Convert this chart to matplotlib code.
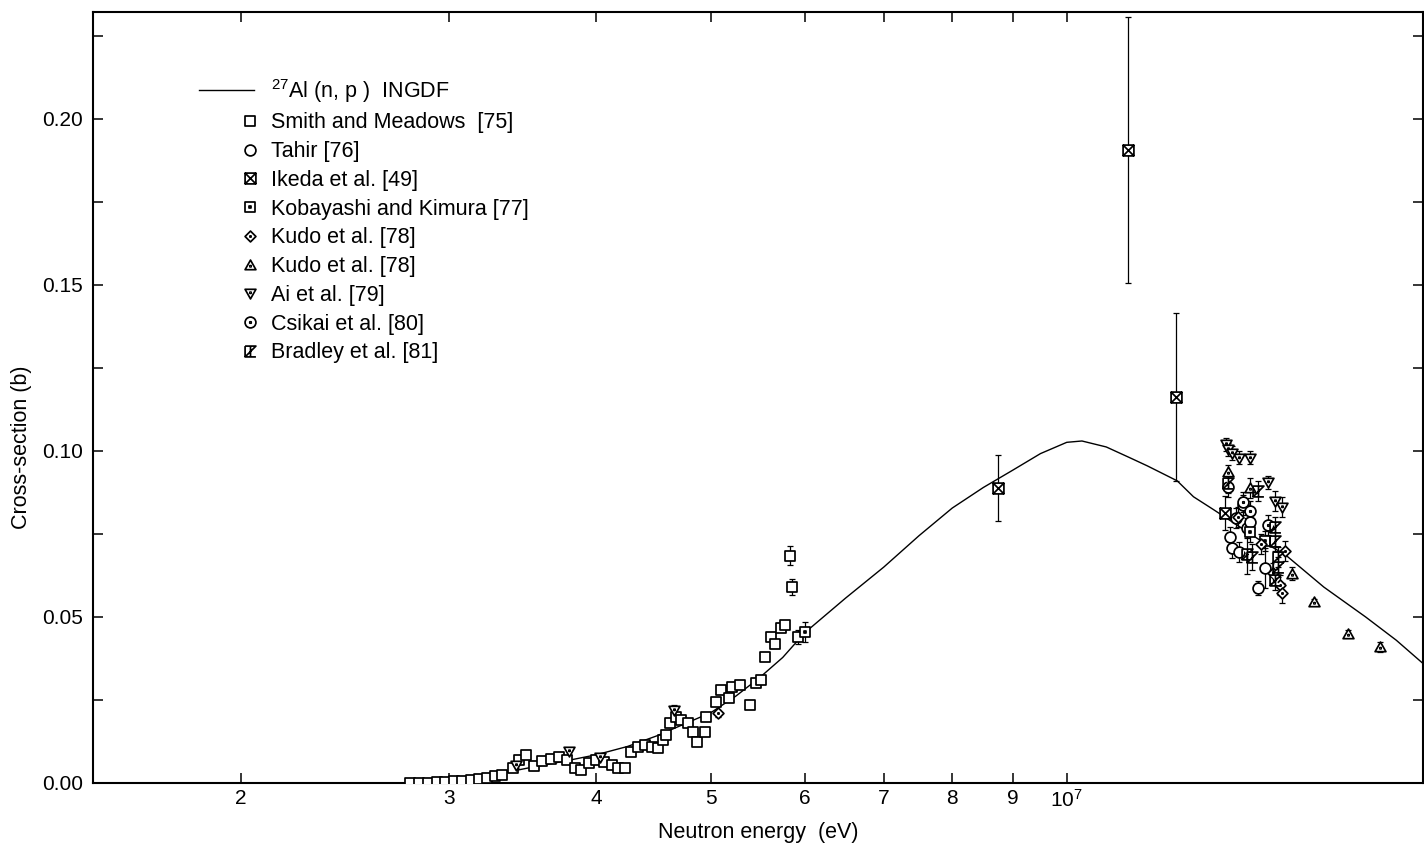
import numpy as np
import matplotlib
matplotlib.use("Agg")
import matplotlib.pyplot as plt
from matplotlib.path import Path
from matplotlib.lines import Line2D
from matplotlib.legend_handler import HandlerLine2D
from matplotlib.ticker import FixedLocator, FixedFormatter, MultipleLocator, NullLocator

plt.rcParams['font.family'] = ['Liberation Sans', 'DejaVu Sans']
plt.rcParams['mathtext.fontset'] = 'custom'
plt.rcParams['mathtext.rm'] = 'Liberation Sans'
plt.rcParams['mathtext.it'] = 'Liberation Sans:italic'

# 27Al(n,p) evaluated curve, energies in MeV, cross-section in b
ingdf_e = [2.75, 3.00, 3.25, 3.50, 3.75, 4.00, 4.25, 4.50, 4.75, 5.00, 5.25, 5.50,
           5.75, 6.00, 6.50, 7.00, 7.50, 8.00, 8.50, 9.00, 9.50, 10.0, 10.3, 10.8,
           11.3, 11.7, 12.4, 12.8, 13.3, 14.56, 15.3, 16.5, 17.9, 19.0, 20.0]
ingdf_xs = [0.0000, 0.0006, 0.0022, 0.0045, 0.0065, 0.0085, 0.0110, 0.0142, 0.0178,
            0.0212, 0.0262, 0.0318, 0.0378, 0.0452, 0.0557, 0.0650, 0.0745, 0.0828,
            0.0890, 0.0942, 0.0992, 0.1026, 0.1030, 0.1012, 0.0980, 0.0955, 0.0910,
            0.0862, 0.0824, 0.0732, 0.0688, 0.0590, 0.0500, 0.0430, 0.0361]

smith_e = [2.78, 2.83, 2.88, 2.93, 2.98, 3.03, 3.08, 3.13, 3.18, 3.23, 3.28, 3.33,
           3.40, 3.44, 3.49, 3.54, 3.60, 3.66, 3.72, 3.78, 3.84, 3.88, 3.94, 4.00,
           4.06, 4.12, 4.17, 4.23, 4.28, 4.34, 4.40, 4.46, 4.51, 4.55, 4.58, 4.62,
           4.67, 4.72, 4.78, 4.83, 4.87, 4.94, 4.95, 5.05, 5.10, 5.18, 5.21, 5.29,
           5.39, 5.46, 5.51, 5.55, 5.62, 5.66, 5.73, 5.77, 5.83, 5.85, 5.92]
smith_xs = [0.0000, 0.0001, 0.0001, 0.0002, 0.0003, 0.0005, 0.0007, 0.0010, 0.0012,
            0.0016, 0.0020, 0.0025, 0.0045, 0.0068, 0.0085, 0.0050, 0.0065, 0.0072,
            0.0078, 0.0070, 0.0045, 0.0040, 0.0060, 0.0068, 0.0062, 0.0055, 0.0045,
            0.0045, 0.0093, 0.0108, 0.0114, 0.0108, 0.0105, 0.0129, 0.0145, 0.0180,
            0.0199, 0.0190, 0.0180, 0.0154, 0.0123, 0.0154, 0.0200, 0.0244, 0.0280,
            0.0256, 0.0290, 0.0295, 0.0235, 0.0300, 0.0310, 0.0380, 0.0440, 0.0420,
            0.0467, 0.0476, 0.0685, 0.0590, 0.0440]
smith_err = [0.0005] * 12 + [0.001] * 44 + [0.003, 0.0025, 0.002]

tahir_e = [13.74, 13.80, 13.90, 14.00, 14.10, 14.20, 14.30, 14.50, 14.70]
tahir_xs = [0.0740, 0.0708, 0.0798, 0.0695, 0.0837, 0.0768, 0.0786, 0.0587, 0.0648]
tahir_err = [0.003, 0.003, 0.003, 0.003, 0.003, 0.003, 0.003, 0.002, 0.006]

ikeda_e = [8.74, 11.26, 12.36, 13.60]
ikeda_xs = [0.0889, 0.1907, 0.1163, 0.0813]
ikeda_err = [0.0099, 0.0400, 0.0252, 0.0050]

kobayashi_e = [6.00, 14.30, 14.70]
kobayashi_xs = [0.0455, 0.0756, 0.0730]
kobayashi_err = [0.003, 0.003, 0.003]

kudo_d_e = [5.07, 13.95, 14.60, 14.95, 15.15, 15.20, 15.30]
kudo_d_xs = [0.0210, 0.0800, 0.0720, 0.0633, 0.0596, 0.0572, 0.0700]
kudo_d_err = [0.001, 0.003, 0.003, 0.003, 0.003, 0.003, 0.003]

kudo_t_e = [13.70, 14.30, 15.50, 16.20, 17.30, 18.40]
kudo_t_xs = [0.0937, 0.0888, 0.0630, 0.0545, 0.0450, 0.0410]
kudo_t_err = [0.002, 0.003, 0.002, 0.001, 0.001, 0.0015]

ai_e = [3.42, 3.79, 4.03, 4.65, 13.63, 13.70, 13.80, 14.00, 14.30, 14.80, 15.00, 15.20]
ai_xs = [0.0055, 0.0095, 0.0078, 0.0220, 0.1020, 0.1005, 0.0994, 0.0980, 0.0980,
         0.0906, 0.0850, 0.0830]
ai_err = [0.001, 0.001, 0.001, 0.0015, 0.002, 0.002, 0.002, 0.002, 0.002, 0.002,
          0.003, 0.003]

csikai_e = [13.70, 14.10, 14.30, 14.80]
csikai_xs = [0.0890, 0.0845, 0.0820, 0.0777]
csikai_err = [0.003, 0.003, 0.003, 0.003]

bradley_e = [13.70, 14.20, 14.35, 14.50, 15.00, 15.00, 15.00, 15.10, 15.10]
bradley_xs = [0.0903, 0.0690, 0.0680, 0.0880, 0.0770, 0.0730, 0.0610, 0.0680, 0.0650]
bradley_err = [0.003, 0.006, 0.004, 0.003, 0.003, 0.003, 0.003, 0.003, 0.003]

labels = ['$^{27}$Al (n, p )  INGDF', 'Smith and Meadows  [75]', 'Tahir [76]',
          'Ikeda et al. [49]', 'Kobayashi and Kimura [77]', 'Kudo et al. [78]',
          'Kudo et al. [78]', 'Ai et al. [79]', 'Csikai et al. [80]', 'Bradley et al. [81]']

tick_e = [2e6, 3e6, 4e6, 5e6, 6e6, 7e6, 8e6, 9e6, 1e7]
tick_labels = ['2', '3', '4', '5', '6', '7', '8', '9', '$10^7$']


def closed(pts):
    return Path(list(pts) + [pts[0]], closed=True)


def with_dot(outline, y=0.0):
    d = 0.13
    dot = closed([(-d, y - d), (d, y - d), (d, y + d), (-d, y + d)])
    return Path.make_compound_path(outline, dot)


M, L, C = Path.MOVETO, Path.LINETO, Path.CLOSEPOLY
square = closed([(-1, -1), (1, -1), (1, 1), (-1, 1)])
circle = Path.unit_circle()
diamond = closed([(0, -1.2), (1.2, 0), (0, 1.2), (-1.2, 0)])
tri_up = closed([(-1.1, -0.85), (1.1, -0.85), (0, 1.1)])
tri_dn = closed([(-1.1, 0.85), (1.1, 0.85), (0, -1.1)])
box_x = Path([(-1, -1), (1, -1), (1, 1), (-1, 1), (-1, -1), (-1, 1), (1, -1), (-1, -1), (1, 1)],
             [M, L, L, L, C, M, L, M, L])
glass_x = Path([(-1, 1), (1, 1), (-1, -1), (1, -1), (0, 1), (0, -1), (-1, 1), (-1, -1)],
               [M, L, L, L, M, L, M, L])

series = [
    (smith_e, smith_xs, smith_err, square),
    (tahir_e, tahir_xs, tahir_err, circle),
    (ikeda_e, ikeda_xs, ikeda_err, box_x),
    (kobayashi_e, kobayashi_xs, kobayashi_err, with_dot(square)),
    (kudo_d_e, kudo_d_xs, kudo_d_err, with_dot(diamond)),
    (kudo_t_e, kudo_t_xs, kudo_t_err, with_dot(tri_up, -0.15)),
    (ai_e, ai_xs, ai_err, with_dot(tri_dn, 0.15)),
    (csikai_e, csikai_xs, csikai_err, with_dot(circle)),
    (bradley_e, bradley_xs, bradley_err, glass_x),
]

MS, MEW = 7.8, 1.25
FS = 15


class EndMarker(HandlerLine2D):
    # single marker placed at the right end of the handle slot
    def get_xdata(self, legend, xdescent, ydescent, width, height, fontsize):
        c = width - xdescent - 0.2 * fontsize
        return np.array([c - 1.0, c + 1.0]), np.array([c])


fig = plt.figure(figsize=(14.24, 8.47), dpi=100)
ax = fig.add_axes([0.0653, 0.0756, 0.9337, 0.9102])

ax.plot(np.array(ingdf_e) * 1e6, ingdf_xs, color='k', lw=1.0, zorder=2)

for e, xs, err, mk in series:
    e = np.array(e) * 1e6
    ax.errorbar(e, xs, yerr=err, fmt='none', ecolor='k', elinewidth=0.9,
                capsize=2.5, capthick=0.9, zorder=3)
    ax.plot(e, xs, ls='none', marker=mk, ms=MS, mfc='white', mec='k', mew=MEW, zorder=4)

ax.set_xscale('log')
ax.set_xlim(1.5e6, 2.0e7)
ax.set_ylim(0, 0.2322)
ax.xaxis.set_major_locator(FixedLocator(tick_e))
ax.xaxis.set_major_formatter(FixedFormatter(tick_labels))
ax.xaxis.set_minor_locator(NullLocator())
ax.yaxis.set_major_locator(MultipleLocator(0.05))
ax.yaxis.set_minor_locator(MultipleLocator(0.025))
ax.yaxis.set_major_formatter(matplotlib.ticker.FormatStrFormatter('%.2f'))
ax.tick_params(which='both', direction='in', length=7, width=1.1, top=True, right=True,
               labelsize=FS)
ax.tick_params(axis='x', pad=4)
ax.tick_params(axis='y', pad=7)
for sp in ax.spines.values():
    sp.set_linewidth(1.5)

ax.set_xlabel('Neutron energy  (eV)', fontsize=15.5, labelpad=8)
ax.set_ylabel('Cross-section (b)', fontsize=15.5)
ax.yaxis.set_label_coords(-0.046, 0.435)

curve_handle = Line2D([], [], color='k', lw=1.0)
handles = [curve_handle]
for _, _, _, mk in series:
    handles.append(Line2D([], [], ls='none', marker=mk, ms=MS, mfc='white', mec='k', mew=MEW))
ax.legend(handles, labels, loc='upper left', bbox_to_anchor=(0.080, 0.916), frameon=False,
          handlelength=2.55, handletextpad=0.8, labelspacing=0.36, borderpad=0,
          borderaxespad=0, fontsize=15.5,
          handler_map={curve_handle: HandlerLine2D(), Line2D: EndMarker()})

fig.savefig('out.png', dpi=100)
